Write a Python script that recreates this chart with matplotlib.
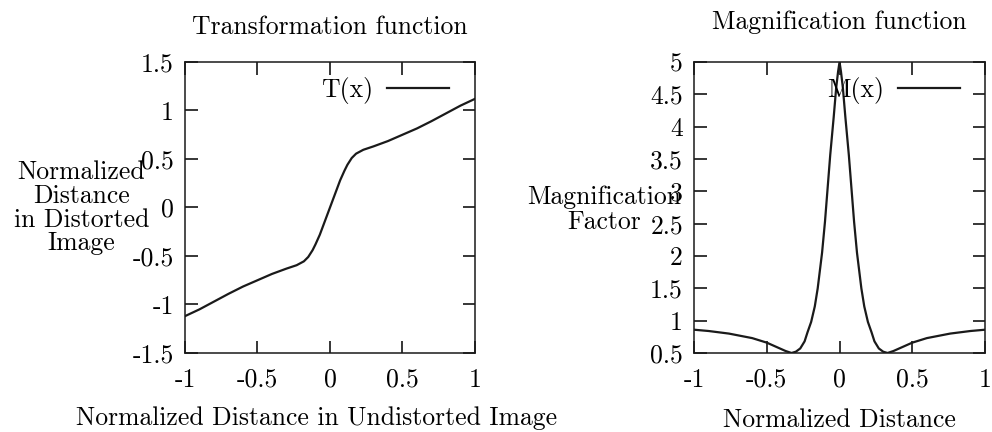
import matplotlib
matplotlib.use('Agg')
import matplotlib.pyplot as plt

plt.rcParams['font.family'] = 'cmr10'
plt.rcParams['axes.unicode_minus'] = False
plt.rcParams['mathtext.fontset'] = 'cm'

# T(x): transformation function
t_x = [-1.0, -0.9, -0.8, -0.7, -0.6, -0.5, -0.4, -0.3, -0.23, -0.18, -0.15, -0.12, -0.1,
       -0.07, -0.05, -0.03, 0.0,
       0.03, 0.05, 0.07, 0.1, 0.12, 0.15, 0.18, 0.23, 0.3, 0.4, 0.5, 0.6, 0.7, 0.8, 0.9, 1.0]
t_y = [-1.12, -1.05, -0.97, -0.89, -0.815, -0.75, -0.685, -0.63, -0.595, -0.555, -0.51, -0.44, -0.38,
       -0.28, -0.2, -0.12, 0.0,
       0.12, 0.2, 0.28, 0.38, 0.44, 0.51, 0.555, 0.595, 0.63, 0.685, 0.75, 0.815, 0.89, 0.97, 1.05, 1.12]

# M(x): magnification function
m_x = [-1.0, -0.9, -0.76, -0.6, -0.5, -0.42, -0.37, -0.33, -0.3, -0.27, -0.24, -0.22, -0.195,
       -0.17, -0.15, -0.12, -0.1, -0.064, -0.04, -0.023, -0.01, 0.0,
       0.01, 0.023, 0.04, 0.064, 0.1, 0.12, 0.15, 0.17, 0.195, 0.22, 0.24, 0.27, 0.3, 0.33,
       0.37, 0.42, 0.5, 0.6, 0.76, 0.9, 1.0]
m_y = [0.86, 0.84, 0.80, 0.73, 0.66, 0.58, 0.53, 0.5, 0.52, 0.57, 0.68, 0.82, 0.98,
       1.22, 1.5, 2.05, 2.53, 3.56, 4.15, 4.6, 4.85, 5.0,
       4.85, 4.6, 4.15, 3.56, 2.53, 2.05, 1.5, 1.22, 0.98, 0.82, 0.68, 0.57, 0.52, 0.5,
       0.53, 0.58, 0.66, 0.73, 0.80, 0.84, 0.86]

x_ticks = [-1, -0.5, 0, 0.5, 1]
x_labels = ['-1', '-0.5', '0', '0.5', '1']
t_ticks = [-1.5, -1, -0.5, 0, 0.5, 1, 1.5]
t_labels = ['-1.5', '-1', '-0.5', '0', '0.5', '1', '1.5']
m_ticks = [0.5, 1, 1.5, 2, 2.5, 3, 3.5, 4, 4.5, 5]
m_labels = ['0.5', '1', '1.5', '2', '2.5', '3', '3.5', '4', '4.5', '5']

fs = 18.5
fig = plt.figure(figsize=(9.92, 4.32), dpi=100)
ax1 = fig.add_axes([0.1865, 0.1829, 0.2923, 0.6736])
ax2 = fig.add_axes([0.6996, 0.1829, 0.2934, 0.6736])


def style(ax):
    ax.tick_params(direction='in', length=9, width=1.1, top=True, right=True,
                   labelsize=fs, colors='black')
    ax.tick_params(axis='x', pad=11)
    ax.tick_params(axis='y', pad=8)
    for s in ax.spines.values():
        s.set_linewidth(1.1)
        s.set_color('#1a1a1a')


ax1.plot(t_x, t_y, color='#1a1a1a', lw=1.6, label='T(x)')
ax1.set_xlim(-1, 1)
ax1.set_ylim(-1.5, 1.5)
ax1.set_xticks(x_ticks)
ax1.set_xticklabels(x_labels)
ax1.set_yticks(t_ticks)
ax1.set_yticklabels(t_labels)
style(ax1)
ax1.set_title('Transformation function', fontsize=fs, pad=20)
ax1.set_xlabel('Normalized Distance in Undistorted Image', fontsize=fs, labelpad=10,
               x=0.452, ha='center')
fig.text(0.082, 0.519, 'Normalized\nDistance\nin Distorted\nImage', fontsize=fs,
         ha='center', va='center', linespacing=1.0)
ax1.legend(loc='upper right', bbox_to_anchor=(0.91, 0.95), frameon=False, fontsize=fs,
           markerfirst=False, handlelength=2.4, handletextpad=0.55,
           borderaxespad=0, borderpad=0)

ax2.plot(m_x, m_y, color='#1a1a1a', lw=1.6, label='M(x)')
ax2.set_xlim(-1, 1)
ax2.set_ylim(0.5, 5)
ax2.set_xticks(x_ticks)
ax2.set_xticklabels(x_labels)
ax2.set_yticks(m_ticks)
ax2.set_yticklabels(m_labels)
style(ax2)
ax2.set_title('Magnification function', fontsize=fs, pad=24)
ax2.set_xlabel('Normalized Distance', fontsize=fs, labelpad=12)
fig.text(0.609, 0.514, 'Magnification\nFactor', fontsize=fs,
         ha='center', va='center', linespacing=1.05)
ax2.legend(loc='upper right', bbox_to_anchor=(0.914, 0.95), frameon=False, fontsize=fs,
           markerfirst=False, handlelength=2.4, handletextpad=0.55,
           borderaxespad=0, borderpad=0)

fig.savefig('out.png', dpi=100)
